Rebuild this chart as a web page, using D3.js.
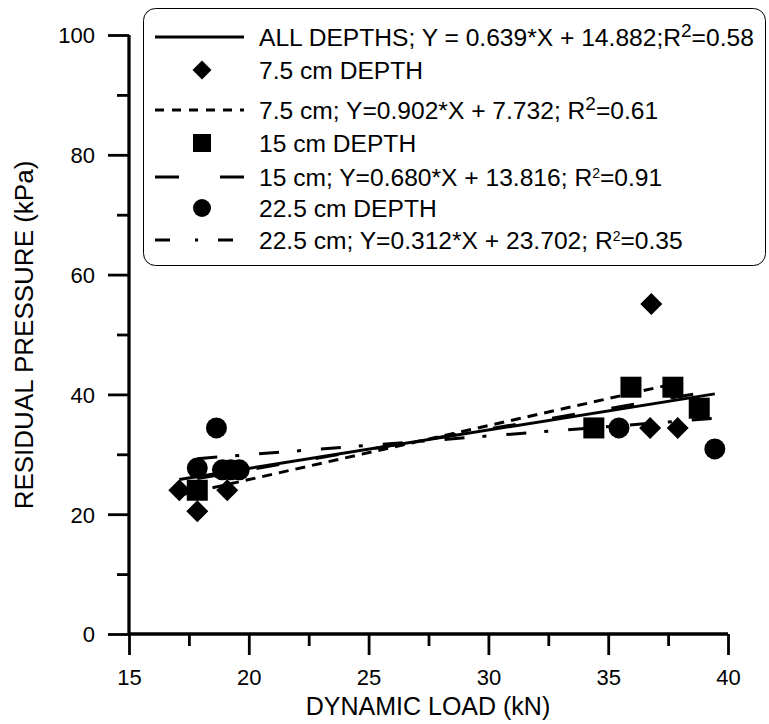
<!DOCTYPE html>
<html>
<head>
<meta charset="utf-8">
<script src="https://cdn.jsdelivr.net/npm/d3@7"></script>
<style>
  body { margin: 0; background: #fff; }
  svg text { font-family: "Liberation Sans", Arial, sans-serif; fill: #000; }
</style>
</head>
<body>
<div id="chart"></div>
<script>
// data
var depth75X = [17.1, 17.85, 19.1, 36.8, 36.75, 37.9];
var depth75Y = [24.0, 20.5, 24.0, 55.1, 34.4, 34.4];
var depth15X = [17.85, 34.4, 35.95, 37.7, 38.8];
var depth15Y = [24.0, 34.4, 41.2, 41.2, 37.7];
var depth225X = [17.85, 18.65, 18.9, 19.25, 19.6, 35.45, 39.45];
var depth225Y = [27.7, 34.4, 27.4, 27.4, 27.4, 34.4, 30.9];

// fitted lines: slope, intercept, x range
var fitNames = ["all", "d75", "d15", "d225"];
var fitSlope = [0.639, 0.902, 0.680, 0.312];
var fitIntercept = [14.882, 7.732, 13.816, 23.702];
var fitFrom = [17.1, 17.1, 17.85, 17.85];
var fitTo = [39.45, 37.9, 38.8, 39.45];

var xTicks = [15, 20, 25, 30, 35, 40];
var yTicks = [0, 20, 40, 60, 80, 100];

var w = 769, h = 724;
var x = d3.scaleLinear().domain([15, 40]).range([129, 728]);
var y = d3.scaleLinear().domain([0, 100]).range([634, 35]);

var svg = d3.select("#chart").append("svg")
  .attr("width", w)
  .attr("height", h);

var dashes = { all: null, d75: "10,7", d15: "23,37", d225: "20,18,4,20" };

// axes
var xAxis = svg.append("g").attr("transform", "translate(0,634)");
xAxis.call(d3.axisBottom(x).tickValues(d3.range(17.5, 40, 5)).tickSize(12).tickFormat(""));
xAxis.append("g").call(d3.axisBottom(x).tickValues(xTicks).tickSize(21).tickFormat(d3.format("d")));
var yAxis = svg.append("g").attr("transform", "translate(129,0)");
yAxis.call(d3.axisLeft(y).tickValues(d3.range(10, 100, 20)).tickSize(12).tickFormat(""));
yAxis.append("g").call(d3.axisLeft(y).tickValues(yTicks).tickSize(21).tickFormat(d3.format("d")));

svg.selectAll(".domain").attr("stroke", "#000").attr("stroke-width", 2.8);
svg.selectAll(".tick line").attr("stroke", "#000").attr("stroke-width", 2.8);
svg.selectAll(".tick text").attr("font-size", 22).attr("font-family", "Liberation Sans, Arial, sans-serif").attr("fill", "#000");
xAxis.selectAll(".tick text").attr("y", 51).attr("dy", 0);
yAxis.selectAll(".tick text").attr("x", -34).attr("dy", "0.36em");
xAxis.selectAll(".domain").attr("d", "M129,0H728");
yAxis.selectAll(".domain").attr("d", "M0,634V35");

svg.append("text")
  .attr("x", 428).attr("y", 715)
  .attr("text-anchor", "middle").attr("font-size", 25)
  .text("DYNAMIC LOAD (kN)");
svg.append("text")
  .attr("transform", "translate(33,335) rotate(-90)")
  .attr("text-anchor", "middle").attr("font-size", 26)
  .text("RESIDUAL PRESSURE (kPa)");

// fit lines
var line = d3.line().x(function(d){ return x(d[0]); }).y(function(d){ return y(d[1]); });
fitNames.forEach(function(n, i){
  var pts = [fitFrom[i], fitTo[i]].map(function(v){ return [v, fitSlope[i] * v + fitIntercept[i]]; });
  svg.append("path")
    .attr("d", line(pts))
    .attr("fill", "none")
    .attr("stroke", "#000")
    .attr("stroke-width", 3)
    .attr("stroke-dasharray", dashes[n]);
});

// markers
function zip(a, b){ return a.map(function(v, i){ return [v, b[i]]; }); }
function marker(g, kind, s){
  if (kind == "diamond") {
    g.append("path").attr("d", "M0,-" + s + "L" + s + ",0L0," + s + "L-" + s + ",0Z");
  } else if (kind == "square") {
    g.append("rect").attr("x", -s).attr("y", -s).attr("width", 2 * s).attr("height", 2 * s);
  } else {
    g.append("circle").attr("r", s);
  }
}
[["diamond", zip(depth75X, depth75Y), 11], ["square", zip(depth15X, depth15Y), 10.5], ["circle", zip(depth225X, depth225Y), 10.5]]
  .forEach(function(s){
    svg.selectAll(null).data(s[1]).enter().append("g")
      .attr("transform", function(d){ return "translate(" + x(d[0]) + "," + y(d[1]) + ")"; })
      .attr("fill", "#000")
      .each(function(){ marker(d3.select(this), s[0], s[2]); });
  });

// legend
var lg = svg.append("g");
lg.append("rect")
  .attr("x", 143.5).attr("y", 8.5).attr("width", 622).attr("height", 257)
  .attr("rx", 12).attr("fill", "#fff").attr("stroke", "#000").attr("stroke-width", 1);

var legendRows = [
  { line: "all", cy: 37, text: ["ALL DEPTHS; Y = 0.639*X + 14.882;R", "2", "=0.58"], big: true },
  { mark: "diamond", cy: 70, text: ["7.5 cm DEPTH"] },
  { line: "d75", cy: 110, text: ["7.5 cm; Y=0.902*X + 7.732; R", "2", "=0.61"], big: true },
  { mark: "square", cy: 143, text: ["15 cm DEPTH"] },
  { line: "d15", cy: 177, text: ["15 cm; Y=0.680*X + 13.816; R", "2", "=0.91"] },
  { mark: "circle", cy: 208, text: ["22.5 cm DEPTH"] },
  { line: "d225", cy: 240, text: ["22.5 cm; Y=0.312*X + 23.702; R", "2", "=0.35"] }
];
var legendDash = { all: null, d75: "9,8", d15: "24,41", d225: "15,25,3,20" };
legendRows.forEach(function(r){
  var cy = r.cy;
  if (r.line) {
    lg.append("line")
      .attr("x1", 155).attr("x2", 244).attr("y1", cy).attr("y2", cy)
      .attr("stroke", "#000").attr("stroke-width", 3)
      .attr("stroke-dasharray", legendDash[r.line]);
  } else {
    var g = lg.append("g").attr("transform", "translate(202," + cy + ")").attr("fill", "#000");
    marker(g, r.mark, r.mark == "diamond" ? 9.5 : 9);
  }
  var t = lg.append("text").attr("x", 259).attr("y", cy + 9).attr("font-size", 24.6);
  t.append("tspan").text(r.text[0]);
  if (r.text.length > 1) {
    t.append("tspan").attr("font-size", r.big ? 19 : 14).attr("dy", r.big ? -9 : -8).text(r.text[1]);
    t.append("tspan").attr("dy", r.big ? 9 : 8).text(r.text[2]);
  }
});
</script>
</body>
</html>
